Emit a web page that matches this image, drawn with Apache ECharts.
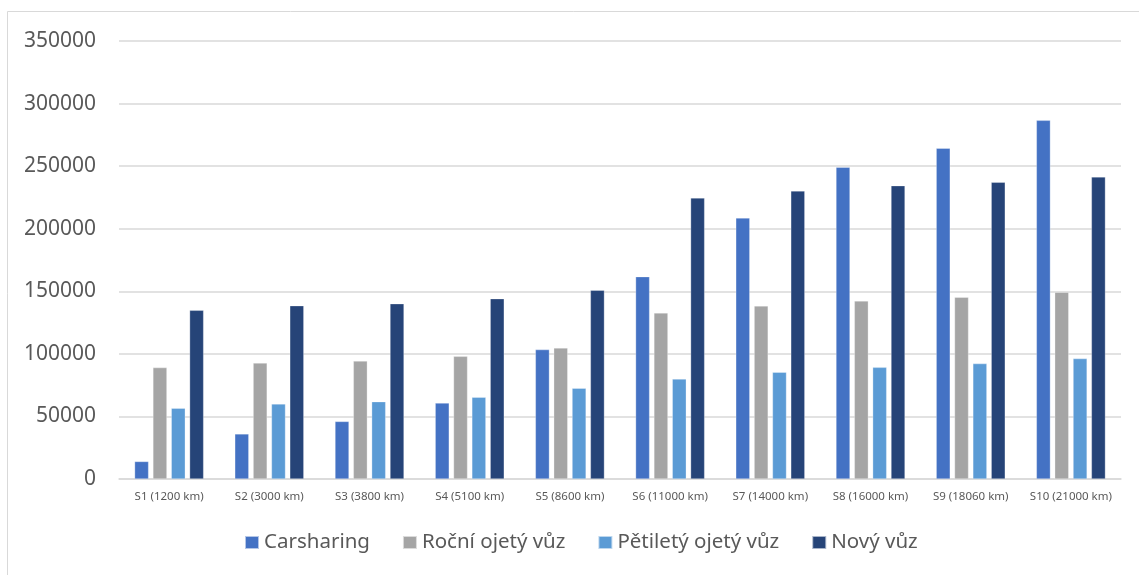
<!DOCTYPE html>
<html>
<head>
<meta charset="utf-8">
<script src="https://cdn.jsdelivr.net/npm/echarts@6/dist/echarts.min.js"></script>
<style>
  html, body { margin: 0; padding: 0; background: #fff; }
  #chart { width: 1139px; height: 575px; }
</style>
</head>
<body>
<div id="chart"></div>
<script>
// Scenarios (annual mileage) and total cost per option
const categories = ['S1 (1200 km)', 'S2 (3000 km)', 'S3 (3800 km)', 'S4 (5100 km)', 'S5 (8600 km)',
  'S6 (11000 km)', 'S7 (14000 km)', 'S8 (16000 km)', 'S9 (18060 km)', 'S10 (21000 km)'];
const seriesNames = ['Carsharing', 'Roční ojetý vůz', 'Pětiletý ojetý vůz', 'Nový vůz'];
const carsharing = [14000, 36000, 46000, 60700, 103400, 161700, 208600, 249100, 264300, 286600];
const rocniOjety = [89000, 92700, 94300, 98000, 104700, 132700, 138300, 142300, 145200, 149200];
const petiletyOjety = [56500, 60000, 61800, 65300, 72500, 79900, 85300, 89200, 92200, 96200];
const novyVuz = [134800, 138500, 140100, 144100, 150800, 224600, 230200, 234400, 237100, 241400];
const yTicks = [0, 50000, 100000, 150000, 200000, 250000, 300000, 350000];

const colors = ['#4472C4', '#A5A5A5', '#5B9BD5', '#264478'];
const values = [carsharing, rocniOjety, petiletyOjety, novyVuz];

const chart = echarts.init(document.getElementById('chart'));
chart.setOption({
  animation: false,
  backgroundColor: '#ffffff',
  graphic: [{
    type: 'rect',
    shape: { x: 7.5, y: 11.5, width: 1200, height: 700 },
    style: { fill: 'none', stroke: '#d9d9d9', lineWidth: 1 },
    silent: true,
    z: -1
  }],
  grid: { left: 119, right: 18, top: 41, bottom: 96, containLabel: false },
  legend: {
    data: seriesNames,
    top: 532,
    left: 244,
    padding: 0,
    itemWidth: 14,
    itemHeight: 13,
    itemGap: 32,
    icon: 'rect',
    textStyle: { fontFamily: 'Noto Sans', fontSize: 20.5, color: '#595959' }
  },
  xAxis: {
    type: 'category',
    data: categories,
    axisLine: { show: true, lineStyle: { color: '#d9d9d9', width: 1.5 } },
    axisTick: { show: false },
    axisLabel: { fontFamily: 'Noto Sans', fontSize: 11.5, color: '#595959', margin: 12, interval: 0 }
  },
  yAxis: {
    type: 'value',
    min: yTicks[0],
    max: yTicks[yTicks.length - 1],
    interval: 50000,
    axisLine: { show: false },
    axisTick: { show: false },
    splitLine: { lineStyle: { color: '#d9d9d9', width: 1.5 } },
    axisLabel: {
      fontFamily: 'Noto Sans', fontSize: 21, color: '#595959', margin: 23,
      formatter: (v) => String(v)
    }
  },
  series: seriesNames.map((name, i) => ({
    name,
    type: 'bar',
    data: values[i],
    barWidth: 14,
    barGap: '31%',
    itemStyle: { color: colors[i], borderColor: 'rgba(255,255,255,0.6)', borderWidth: 0.5 }
  }))
});
</script>
</body>
</html>
